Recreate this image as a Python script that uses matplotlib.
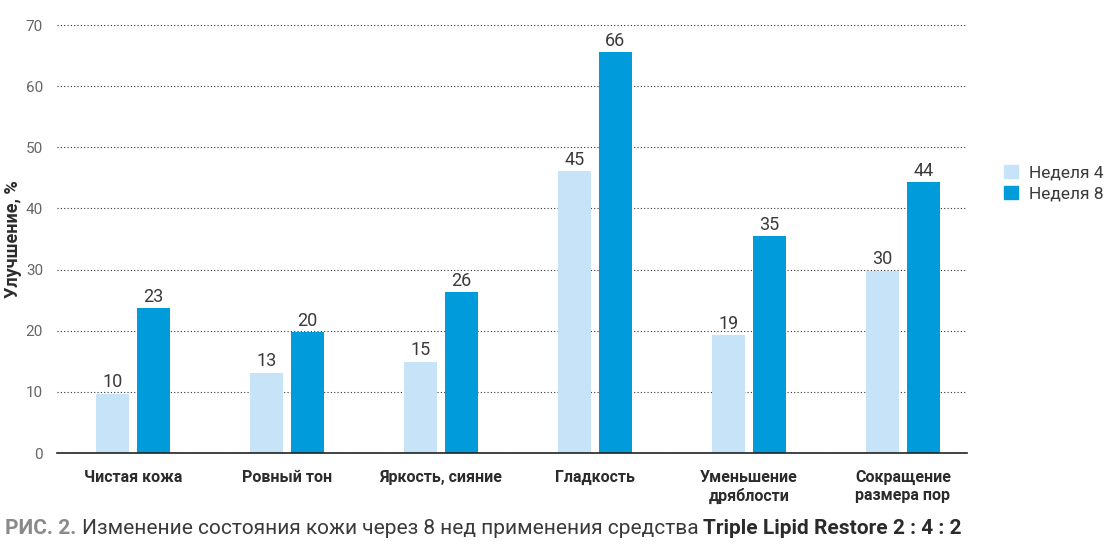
import numpy as np
import matplotlib.pyplot as plt
from matplotlib.patches import Patch

plt.rcParams['font.family'] = ['Roboto', 'DejaVu Sans']

# Data
categories = ["Чистая кожа", "Ровный тон", "Яркость, сияние", "Гладкость",
              "Уменьшение\nдряблости", "Сокращение\nразмера пор"]
week4 = [9.7, 13.1, 14.9, 46.1, 19.3, 29.8]
week8 = [23.7, 19.8, 26.3, 65.6, 35.5, 44.3]
week4_labels = ["10", "13", "15", "45", "19", "30"]
week8_labels = ["23", "20", "26", "66", "35", "44"]
yticks = [0, 10, 20, 30, 40, 50, 60, 70]

light = "#c7e3f7"
dark = "#009bdb"
text_dark = "#2b2b2b"
tick_grey = "#666666"

fig = plt.figure(figsize=(11.13, 5.45), dpi=100)
ax = fig.add_axes([0.0512, 0.1688, 0.8176, 0.7852])

x = np.arange(len(categories))
w = 0.214
off = 0.133
b4 = ax.bar(x - off, week4, w, color=light, zorder=3)
b8 = ax.bar(x + off, week8, w, color=dark, zorder=3)

for rect, lab in zip(b4, week4_labels):
    ax.text(rect.get_x() + rect.get_width() / 2, rect.get_height() + 0.4, lab,
            ha="center", va="bottom", fontsize=13, color="#3a3a3a")
for rect, lab in zip(b8, week8_labels):
    ax.text(rect.get_x() + rect.get_width() / 2, rect.get_height() + 0.4, lab,
            ha="center", va="bottom", fontsize=13, color="#3a3a3a")

ax.set_xlim(-0.494, 5.416)
ax.set_ylim(0, 70)
ax.set_yticks(yticks)
ax.set_xticks(x)
ax.set_xticklabels(categories, fontsize=11.5, fontweight="bold", color=text_dark,
                   linespacing=1.25)
ax.tick_params(axis="x", length=0, pad=12)
ax.tick_params(axis="y", length=0, pad=10, labelsize=11, labelcolor=tick_grey)
ax.yaxis.grid(True, linestyle=(0, (1, 2)), color="#333333", linewidth=0.8, zorder=0)
for s in ["top", "right", "left"]:
    ax.spines[s].set_visible(False)
ax.spines["bottom"].set_color("#222222")
ax.spines["bottom"].set_linewidth(1.2)
ax.spines["bottom"].set_zorder(4)

ax.set_ylabel("Улучшение, %", fontsize=13, fontweight="bold", color=text_dark)
ax.yaxis.set_label_coords(-0.038, 0.5)

ax.legend([Patch(color=light), Patch(color=dark)], ["Неделя 4", "Неделя 8"],
          loc="center left", bbox_to_anchor=(1.024, 0.63), frameon=False,
          fontsize=12.5, handlelength=0.8, handleheight=0.8, handletextpad=0.6,
          labelspacing=0.3, labelcolor="#3a3a3a")

# caption built from pieces
fig.canvas.draw()
renderer = fig.canvas.get_renderer()
pieces = [("РИС. 2. ", "bold", "#8a8a8a"),
          ("Изменение состояния кожи через 8 нед применения средства ", "normal", "#3a3a3a"),
          ("Triple Lipid Restore 2 : 4 : 2", "bold", "#2b2b2b")]
xpos = 5 / 1113
for txt, wt, col in pieces:
    t = fig.text(xpos, 1 - 528 / 545, txt, fontsize=15, fontweight=wt, color=col,
                 va="center", ha="left")
    bb = t.get_window_extent(renderer)
    xpos += bb.width / fig.bbox.width

fig.savefig("out.png", dpi=100)
